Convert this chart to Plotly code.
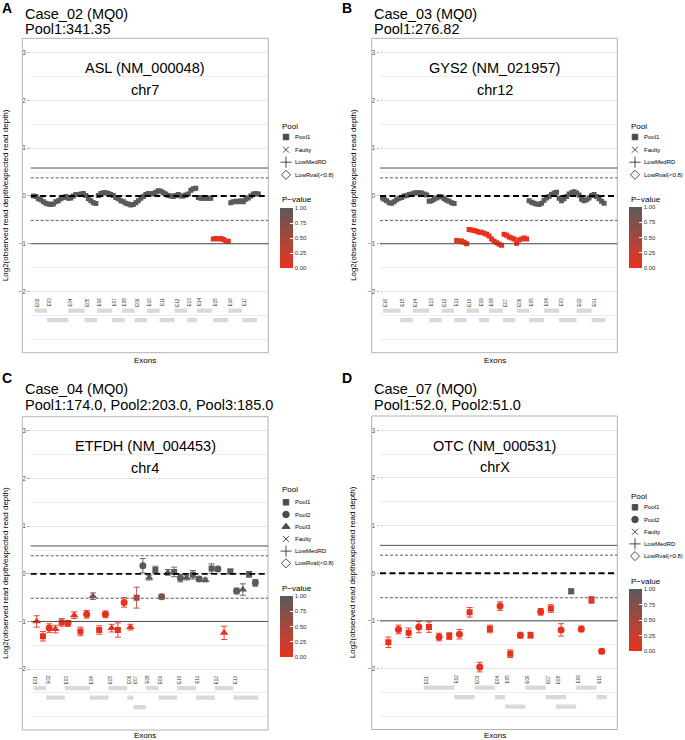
import plotly.graph_objects as go

W, H = 685, 740
FONT = "Liberation Sans, Arial, Helvetica, sans-serif"

# ======================= DATA =======================
# ---- Panel A : Case_02, ASL ----
A_CASE = "Case_02 (MQ0)"
A_DEPTH = "Pool1:341.35"
A_GENE = "ASL (NM_000048)"
A_CHROM = "chr7"
A_POOLS = ["Pool1"]
A_LOG2 = [0.00, -0.01, -0.06, -0.08, -0.12, -0.15, -0.17, -0.18, -0.17, -0.12,
          -0.10, -0.06, -0.03, -0.01, -0.05, -0.04, 0.00, 0.03, 0.03, 0.04,
          0.05, 0.01, -0.06, -0.10, -0.14, -0.16, 0.01, 0.05, 0.07, 0.07,
          0.05, 0.03, 0.01, -0.03, -0.06, -0.10, -0.12, -0.15, -0.17, -0.19,
          -0.18, -0.14, -0.10, -0.05, -0.01, 0.03, 0.05, 0.04, 0.05, 0.08,
          0.11, 0.10, 0.07, 0.04, 0.01, 0.00, -0.01, 0.01, 0.03, 0.00,
          0.00, 0.02, 0.04, 0.12, 0.15, 0.16, -0.03, -0.05, -0.05, -0.05,
          -0.05, -0.05, -0.90, -0.89, -0.90, -0.89, -0.91, -0.94, -0.95, -0.14,
          -0.12, -0.11, -0.12, -0.10, -0.12, -0.07, -0.04, 0.00, 0.04, 0.05, 0.04]
A_PVAL = [1, 1, 1, 1, 1, 1, 1, 1, 1, 1,
          1, 1, 1, 1, 1, 1, 1, 1, 1, 1,
          1, 1, 1, 1, 1, 1, 1, 1, 1, 1,
          1, 1, 1, 1, 1, 1, 1, 1, 1, 1,
          1, 1, 1, 1, 1, 1, 1, 1, 1, 1,
          1, 1, 1, 1, 1, 1, 1, 1, 1, 1,
          1, 1, 1, 1, 1, 1, 1, 1, 1, 1,
          1, 1, 0, 0, 0, 0, 0, 0, 0, 1,
          1, 1, 1, 1, 1, 1, 1, 1, 1, 1, 1]
A_ERR = 0.03
A_EXON_LABEL = ["E02", "E03", "E04", "E05", "E06", "E07", "E08", "E09",
                "E10", "E11", "E12", "E13", "E14", "E15", "E16", "E17"]
A_EXON_START = [1.5, 6.5, 15.0, 21.5, 26.5, 32.5, 36.5, 41.5, 46.5, 51.5, 57.5, 62.5, 66.5, 73.0, 79.0, 84.5]
A_EXON_END = [6.5, 15.0, 21.5, 26.5, 32.5, 37.5, 41.5, 46.5, 51.5, 57.5, 62.5, 66.5, 72.5, 79.0, 84.5, 90.5]
A_EXON_ROW = [1, 2, 1, 2, 1, 2, 1, 2, 1, 2, 1, 2, 1, 2, 1, 2]

# ---- Panel B : Case_03, GYS2 ----
B_CASE = "Case_03 (MQ0)"
B_DEPTH = "Pool1:276.82"
B_GENE = "GYS2 (NM_021957)"
B_CHROM = "chr12"
B_POOLS = ["Pool1"]
B_LOG2 = [-0.04, -0.07, -0.10, -0.14, -0.15, -0.12, -0.08, -0.05, -0.03, 0.00,
          0.01, 0.03, 0.04, 0.06, 0.07, 0.07, 0.06, 0.04, 0.02, -0.11,
          -0.10, -0.07, -0.04, -0.01, -0.02, -0.06, -0.09, -0.11, -0.14, -0.16,
          -0.93, -0.95, -0.94, -0.97, -1.00, -0.70, -0.71, -0.72, -0.74, -0.76,
          -0.76, -0.78, -0.80, -0.84, -0.90, -0.95, -0.98, -1.01, -1.03, -0.80,
          -0.82, -0.86, -0.88, -0.90, -0.99, -0.92, -0.90, -0.88, -0.90, -0.10,
          -0.13, -0.15, -0.17, -0.18, -0.15, -0.09, -0.04, -0.01, 0.03, 0.06,
          0.08, -0.05, -0.10, -0.06, -0.01, 0.04, 0.07, 0.09, 0.06, 0.02,
          -0.07, -0.10, -0.08, -0.04, 0.01, 0.03, -0.01, -0.06, -0.11, -0.15]
B_PVAL = [1, 1, 1, 1, 1, 1, 1, 1, 1, 1,
          1, 1, 1, 1, 1, 1, 1, 1, 1, 1,
          1, 1, 1, 1, 1, 1, 1, 1, 1, 1,
          0, 0, 0, 0, 0, 0, 0, 0, 0, 0,
          0, 0, 0, 0, 0, 0, 0, 0, 0, 0,
          0, 0, 0, 0, 0, 0, 0, 0, 0, 1,
          1, 1, 1, 1, 1, 1, 1, 1, 1, 1,
          1, 1, 1, 1, 1, 1, 1, 1, 1, 1,
          1, 1, 1, 1, 1, 1, 1, 1, 1, 1]
B_ERR = 0.03
B_EXON_LABEL = ["E16", "E15", "E14", "E13", "E12", "E11", "E10", "E09",
                "E08", "E07", "E06", "E05", "E04", "E03", "E02", "E01"]
B_EXON_START = [1.5, 8.5, 13.5, 20.0, 25.0, 30.0, 35.0, 40.0, 44.0, 49.5, 55.0, 60.0, 66.0, 72.0, 79.0, 85.0]
B_EXON_END = [8.5, 13.5, 20.0, 25.0, 30.0, 35.0, 40.0, 44.0, 49.5, 54.5, 60.0, 66.0, 72.0, 79.0, 85.0, 90.5]
B_EXON_ROW = [1, 2, 1, 2, 1, 2, 1, 2, 1, 2, 1, 2, 1, 2, 1, 2]

# ---- Panel C : Case_04, ETFDH ----
C_CASE = "Case_04 (MQ0)"
C_DEPTH = "Pool1:174.0, Pool2:203.0, Pool3:185.0"
C_GENE = "ETFDH (NM_004453)"
C_CHROM = "chr4"
C_POOLS = ["Pool1", "Pool2", "Pool3"]
C_LOG2 = [-1.00, -1.31, -1.14, -1.16, -1.02, -1.04, -0.87, -1.21, -0.85, -0.47,
          -1.18, -0.85, -1.14, -1.18, -0.60, -1.12, -0.50, 0.17, -0.08, 0.08,
          -0.48, 0.03, 0.04, -0.09, -0.08, -0.02, -0.11, -0.13, 0.11, 0.10,
          -1.24, 0.05, -0.36, -0.33, -0.01, -0.19]
C_ERR = [0.12, 0.10, 0.09, 0.08, 0.08, 0.06, 0.07, 0.09, 0.08, 0.07,
         0.09, 0.07, 0.08, 0.15, 0.10, 0.06, 0.22, 0.15, 0.05, 0.08,
         0.05, 0.06, 0.10, 0.08, 0.05, 0.09, 0.05, 0.04, 0.10, 0.04,
         0.14, 0.05, 0.06, 0.12, 0.06, 0.07]
C_POOL = [3, 1, 2, 3, 1, 2, 3, 1, 2, 3, 1, 2, 3, 1, 2, 3, 1, 2,
          3, 1, 2, 3, 1, 2, 3, 1, 2, 3, 1, 2, 3, 1, 2, 3, 1, 2]
C_PVAL = [0.0, 0.0, 0.0, 0.0, 0.0, 0.0, 0.0, 0.0, 0.0, 0.85,
          0.0, 0.0, 0.0, 0.0, 0.05, 0.0, 0.45, 1.0, 1.0, 1.0,
          0.75, 1.0, 1.0, 1.0, 1.0, 1.0, 1.0, 1.0, 1.0, 1.0,
          0.0, 1.0, 1.0, 1.0, 1.0, 1.0]
C_EXON_LABEL = ["E01", "E02", "E03", "E04", "E05", "E06", "E07",
                "E08", "E09", "E10", "E11", "E12", "E13"]
C_EXON_START = [0.5, 2.5, 5.5, 9.5, 12.5, 15.5, 16.5, 18.5, 20.5, 23.5, 26.5, 29.5, 32.5]
C_EXON_END = [2.5, 5.5, 9.5, 12.5, 15.5, 16.5, 18.5, 20.5, 23.5, 26.5, 29.5, 32.5, 36.5]
C_EXON_ROW = [1, 2, 1, 2, 1, 2, 3, 1, 2, 1, 2, 1, 2]

# ---- Panel D : Case_07, OTC ----
D_CASE = "Case_07 (MQ0)"
D_DEPTH = "Pool1:52.0, Pool2:51.0"
D_GENE = "OTC (NM_000531)"
D_CHROM = "chrX"
D_POOLS = ["Pool1", "Pool2"]
D_LOG2 = [-1.45, -1.18, -1.25, -1.13, -1.13, -1.34, -1.32, -1.28, -0.82, -1.97,
          -1.17, -0.69, -1.69, -1.30, -1.30, -0.81, -0.74, -1.19, -0.38, -1.17,
          -0.56, -1.64]
D_ERR = [0.11, 0.09, 0.10, 0.12, 0.11, 0.08, 0.07, 0.10, 0.10, 0.10,
         0.08, 0.09, 0.08, 0.06, 0.06, 0.07, 0.08, 0.13, 0.05, 0.06,
         0.07, 0.05]
D_POOL = [1, 2, 1, 2, 1, 2, 1, 2, 1, 2, 1, 2, 1, 2, 1, 2, 1, 2, 1, 2, 1, 2]
D_PVAL = [0.0, 0.0, 0.0, 0.0, 0.0, 0.0, 0.0, 0.0, 0.0, 0.0,
          0.0, 0.0, 0.0, 0.0, 0.0, 0.0, 0.0, 0.0, 1.0, 0.0,
          0.05, 0.0]
D_EXON_LABEL = ["E01", "E02", "E03", "E04", "E05", "E06", "E07", "E08", "E09", "E10"]
D_EXON_START = [4.5, 7.5, 9.5, 11.5, 12.5, 14.5, 16.5, 17.5, 19.5, 21.5]
D_EXON_END = [7.5, 9.5, 11.5, 12.5, 14.5, 16.5, 18.5, 19.5, 21.5, 22.5]
D_EXON_ROW = [1, 2, 1, 2, 3, 1, 2, 3, 1, 2]

FLAG_LABELS = ["Faulty", "LowMedRD", "LowRval(<0.8)"]
Y_TICKS = [-2, -1, 0, 1, 2, 3]
Y_TICKTEXT = ["\u22122", "\u22121", "0", "1", "2", "3"]
CB_TICKS = [0, 0.25, 0.5, 0.75, 1]
CB_TICKTEXT = ["0.00", "0.25", "0.50", "0.75", "1.00"]
REF_LINES = [0.585, 0.379, 0.0, -0.515, -1.0]   # log2(1.5), log2(1.3), 0, log2(0.7), log2(0.5)

# ======================= STYLE / LAYOUT =======================
CS = [[0.0, "#E8311D"], [0.25, "#C83E2E"], [0.5, "#A5473D"], [0.75, "#80504B"], [1.0, "#5A5A5A"]]


def hex2rgb(h):
    h = h.lstrip("#")
    return tuple(int(h[i:i + 2], 16) for i in (0, 2, 4))


def pcolor(p):
    for (a, ca), (b, cb) in zip(CS[:-1], CS[1:]):
        if a <= p <= b:
            t = 0 if b == a else (p - a) / (b - a)
            r1, g1, b1 = hex2rgb(ca)
            r2, g2, b2 = hex2rgb(cb)
            return "rgb(%d,%d,%d)" % (round(r1 + (r2 - r1) * t), round(g1 + (g2 - g1) * t), round(b1 + (b2 - b1) * t))
    return CS[-1][1]


REF_STYLE = [dict(color="#3a3a3a", width=0.9, dash="solid"),
             dict(color="#4a4a4a", width=0.9, dash="3px,2px"),
             dict(color="#000000", width=1.9, dash="6px,3.5px"),
             dict(color="#6a6a6a", width=1.0, dash="3px,2px"),
             dict(color="#4a4a4a", width=1.0, dash="solid")]

SYM = {1: "square", 2: "circle", 3: "triangle-up"}
LEG_SYM = {"Pool1": ("square", 5.5), "Pool2": ("circle", 6.5), "Pool3": ("triangle-up", 7),
           "Faulty": ("x-thin-open", 6), "LowMedRD": ("cross-thin-open", 8),
           "LowRval(<0.8)": ("diamond-open", 7)}

# box = outer grey frame (left, right, top, bottom px); pl = left edge of the gridded panel
PANELS = [
    dict(letter="A", case=A_CASE, depth=A_DEPTH, gene=A_GENE, chrom=A_CHROM, pools=A_POOLS,
         log2=A_LOG2, pval=A_PVAL, err=[A_ERR] * len(A_LOG2), pool=[1] * len(A_LOG2),
         ex_lab=A_EXON_LABEL, ex_s=A_EXON_START, ex_e=A_EXON_END, ex_r=A_EXON_ROW,
         box=(22.3, 268.3, 38.3, 352.7), pl=30.7, xr=(-0.07, 95.0), size={1: 5},
         cap=1.2, ytitle_x=5.7, leg=(280, 126, 137, 12.6), cb=(280, 208, 268, 199.5), oy=0, xl=0,
         tt=(14, 29), exons_y=360.5),
    dict(letter="B", case=B_CASE, depth=B_DEPTH, gene=B_GENE, chrom=B_CHROM, pools=B_POOLS,
         log2=B_LOG2, pval=B_PVAL, err=[B_ERR] * len(B_LOG2), pool=[1] * len(B_LOG2),
         ex_lab=B_EXON_LABEL, ex_s=B_EXON_START, ex_e=B_EXON_END, ex_r=B_EXON_ROW,
         box=(371.7, 617.3, 38.3, 352.7), pl=380.0, xr=(0.33, 95.3), size={1: 5},
         cap=1.2, ytitle_x=353.5, leg=(629, 126, 137, 12.6), cb=(629, 207, 268, 199.5), oy=0, xl=340,
         tt=(14, 29), exons_y=360.5),
    dict(letter="C", case=C_CASE, depth=C_DEPTH, gene=C_GENE, chrom=C_CHROM, pools=C_POOLS,
         log2=C_LOG2, pval=C_PVAL, err=C_ERR, pool=C_POOL,
         ex_lab=C_EXON_LABEL, ex_s=C_EXON_START, ex_e=C_EXON_END, ex_r=C_EXON_ROW,
         box=(22.3, 268.0, 416.7, 730.0), pl=30.7, xr=(0.04, 38.03), size={1: 6, 2: 7, 3: 7.5},
         cap=3, ytitle_x=5.7, leg=(280, 489, 502.3, 12.2), cb=(280, 596, 657, 588.5), oy=370, xl=0,
         tt=(389.3, 404.5), exons_y=735.5),
    dict(letter="D", case=D_CASE, depth=D_DEPTH, gene=D_GENE, chrom=D_CHROM, pools=D_POOLS,
         log2=D_LOG2, pval=D_PVAL, err=D_ERR, pool=D_POOL,
         ex_lab=D_EXON_LABEL, ex_s=D_EXON_START, ex_e=D_EXON_END, ex_r=D_EXON_ROW,
         box=(371.7, 617.3, 416.0, 729.5), pl=380.0, xr=(0.18, 23.54), size={1: 6, 2: 7},
         cap=3, ytitle_x=352.5, leg=(629, 496, 507.3, 12.2), cb=(629, 589, 651, 581.5), oy=370, xl=340,
         tt=(389.3, 404.5), exons_y=735.5),
]

Y_RANGE = [-3.28, 3.30]
ROW_Y = {1: -2.40, 2: -2.60, 3: -2.80}
LABEL_Y = -2.22
BAR_HALF = 0.045


def px(x, y):
    return x / W, 1 - y / H


def ann(text, x, y, size, xanchor="center", yanchor="middle", angle=0, color="black"):
    return dict(text=text, x=px(x, 0)[0], y=px(0, y)[1], xref="paper", yref="paper",
                xanchor=xanchor, yanchor=yanchor, textangle=angle, showarrow=False,
                font=dict(size=size, color=color))


fig = go.Figure()
annotations, shapes = [], []
layout_axes = {}

for n, P in enumerate(PANELS, start=1):
    sfx = "" if n == 1 else str(n)
    xref, yref = "x" + sfx, "y" + sfx
    L, R, T, B = P["box"]
    layout_axes["xaxis" + sfx] = dict(domain=[P["pl"] / W, R / W], range=list(P["xr"]), anchor=yref,
                                      showgrid=False, zeroline=False, showticklabels=False, ticks="",
                                      showline=False, fixedrange=True)
    layout_axes["yaxis" + sfx] = dict(domain=[1 - B / H, 1 - T / H], range=Y_RANGE, anchor=xref,
                                      tickvals=Y_TICKS, ticktext=Y_TICKTEXT, ticks="outside", ticklen=2.5,
                                      tickcolor="#b3b3b3", tickwidth=0.8,
                                      tickfont=dict(size=6.5, color="#4d4d4d"),
                                      showgrid=True, gridcolor="#e4e4e4", gridwidth=0.7, zeroline=False,
                                      minor=dict(tickvals=[-3, -2.5, -1.5, -0.5, 0.5, 1.5, 2.5],
                                                 showgrid=True, gridcolor="#ededed", gridwidth=0.5),
                                      showline=False, fixedrange=True)
    # grey outer frame
    shapes.append(dict(type="rect", xref="paper", yref="paper", x0=L / W, x1=R / W,
                       y0=1 - B / H, y1=1 - T / H, line=dict(color="#b3b3b3", width=1), layer="above"))
    xs = list(range(1, len(P["log2"]) + 1))

    # error bars, grouped by colour
    groups = {}
    for i, pv in enumerate(P["pval"]):
        groups.setdefault(pv, []).append(i)
    for pv, idx in groups.items():
        fig.add_trace(go.Scatter(
            x=[xs[i] for i in idx], y=[P["log2"][i] for i in idx], mode="markers",
            marker=dict(size=1, color="rgba(0,0,0,0)"),
            error_y=dict(type="data", array=[P["err"][i] for i in idx], color=pcolor(pv),
                         thickness=0.9, width=P["cap"]),
            xaxis=xref, yaxis=yref, showlegend=False, hoverinfo="skip"))

    # points, coloured by p-value through the colour scale
    first = True
    for pool_no in sorted(set(P["pool"])):
        idx = [i for i, q in enumerate(P["pool"]) if q == pool_no]
        cb = None
        if first:
            cbx, cbt, cbb, _ = P["cb"]
            cb = dict(x=cbx / W, xanchor="left", y=1 - cbt / H, yanchor="top",
                      len=cbb - cbt, lenmode="pixels", thickness=13, thicknessmode="pixels",
                      xpad=0, ypad=0, outlinewidth=0, tickvals=CB_TICKS, ticktext=CB_TICKTEXT,
                      ticks="inside", ticklen=3, tickcolor="white", tickwidth=0.8,
                      tickfont=dict(size=6, color="#333333"))
        fig.add_trace(go.Scatter(
            x=[xs[i] for i in idx], y=[P["log2"][i] for i in idx], mode="markers",
            marker=dict(symbol=SYM[pool_no], size=P["size"][pool_no],
                        color=[P["pval"][i] for i in idx], colorscale=CS, cmin=0, cmax=1,
                        showscale=first, colorbar=cb, line=dict(width=0)),
            xaxis=xref, yaxis=yref, showlegend=False, hoverinfo="skip"))
        first = False

    # reference lines
    for yv, st in zip(REF_LINES, REF_STYLE):
        shapes.append(dict(type="line", xref=xref + " domain", yref=yref, x0=0, x1=1, y0=yv, y1=yv,
                           line=st, layer="above"))
    # exon bars and labels
    for lab, s, e, r in zip(P["ex_lab"], P["ex_s"], P["ex_e"], P["ex_r"]):
        shapes.append(dict(type="rect", xref=xref, yref=yref, x0=s, x1=e,
                           y0=ROW_Y[r] - BAR_HALF, y1=ROW_Y[r] + BAR_HALF,
                           fillcolor="#d9d9d9", line=dict(width=0), layer="above"))
        annotations.append(dict(text=lab, x=s, y=LABEL_Y, xref=xref, yref=yref, textangle=-90,
                                xanchor="center", yanchor="middle",
                                showarrow=False, xshift=2, font=dict(size=4.5, color="#333333")))
    # gene / chromosome text (centred on the frame)
    for txt, yv in ((P["gene"], 2.68), (P["chrom"], 2.22)):
        annotations.append(dict(text=txt, x=(L + R) / 2 / W, y=yv, xref="paper", yref=yref,
                                xanchor="center", yanchor="middle", showarrow=False,
                                font=dict(size=14.5, color="black")))
    # titles
    annotations.append(ann(P["case"], L + 0.5, P["tt"][0], 14.5, xanchor="left"))
    annotations.append(ann(P["depth"], L + 0.5, P["tt"][1], 14.5, xanchor="left"))
    annotations.append(ann("<b>%s</b>" % P["letter"], P["xl"] + 7, P["oy"] + 7.8, 14))
    # axis titles
    annotations.append(ann("Exons", (L + R) / 2, P["exons_y"], 8))
    annotations.append(ann("Log2(observed read depth/expected read depth)", P["ytitle_x"], (T + B) / 2, 8,
                           angle=-90))
    # legend (Pool)
    lgx, lgt, lg0, lgs = P["leg"]
    annotations.append(ann("Pool", lgx, lgt, 8, xanchor="left"))
    items = P["pools"] + FLAG_LABELS
    lxs, lys, lsym, lsz = [], [], [], []
    for k, it in enumerate(items):
        yy = lg0 + k * lgs
        lxs.append(lgx + 6)
        lys.append(yy)
        lsym.append(LEG_SYM[it][0])
        lsz.append(LEG_SYM[it][1])
        annotations.append(ann(it, lgx + 13, yy, 6, xanchor="left"))
    fig.add_trace(go.Scatter(x=lxs, y=lys, mode="markers", xaxis="x5", yaxis="y5",
                             marker=dict(symbol=lsym, size=lsz, color="black",
                                         line=dict(color="black", width=1)),
                             showlegend=False, hoverinfo="skip", cliponaxis=False))
    # colourbar title
    cbx, cbt, cbb, cbtt = P["cb"]
    annotations.append(ann("P\u2212value", cbx, cbtt, 8, xanchor="left"))

layout_axes["xaxis5"] = dict(domain=[0, 1], range=[0, W], visible=False, anchor="y5", fixedrange=True)
layout_axes["yaxis5"] = dict(domain=[0, 1], range=[H, 0], visible=False, anchor="x5", fixedrange=True)

fig.update_layout(width=W, height=H, margin=dict(l=0, r=0, t=0, b=0),
                  paper_bgcolor="white", plot_bgcolor="rgba(0,0,0,0)",
                  font=dict(family=FONT, color="black"),
                  showlegend=False, annotations=annotations, shapes=shapes, **layout_axes)

fig.write_html("out.html", config={"displayModeBar": False},
               post_script="document.body.style.margin='0px';")
